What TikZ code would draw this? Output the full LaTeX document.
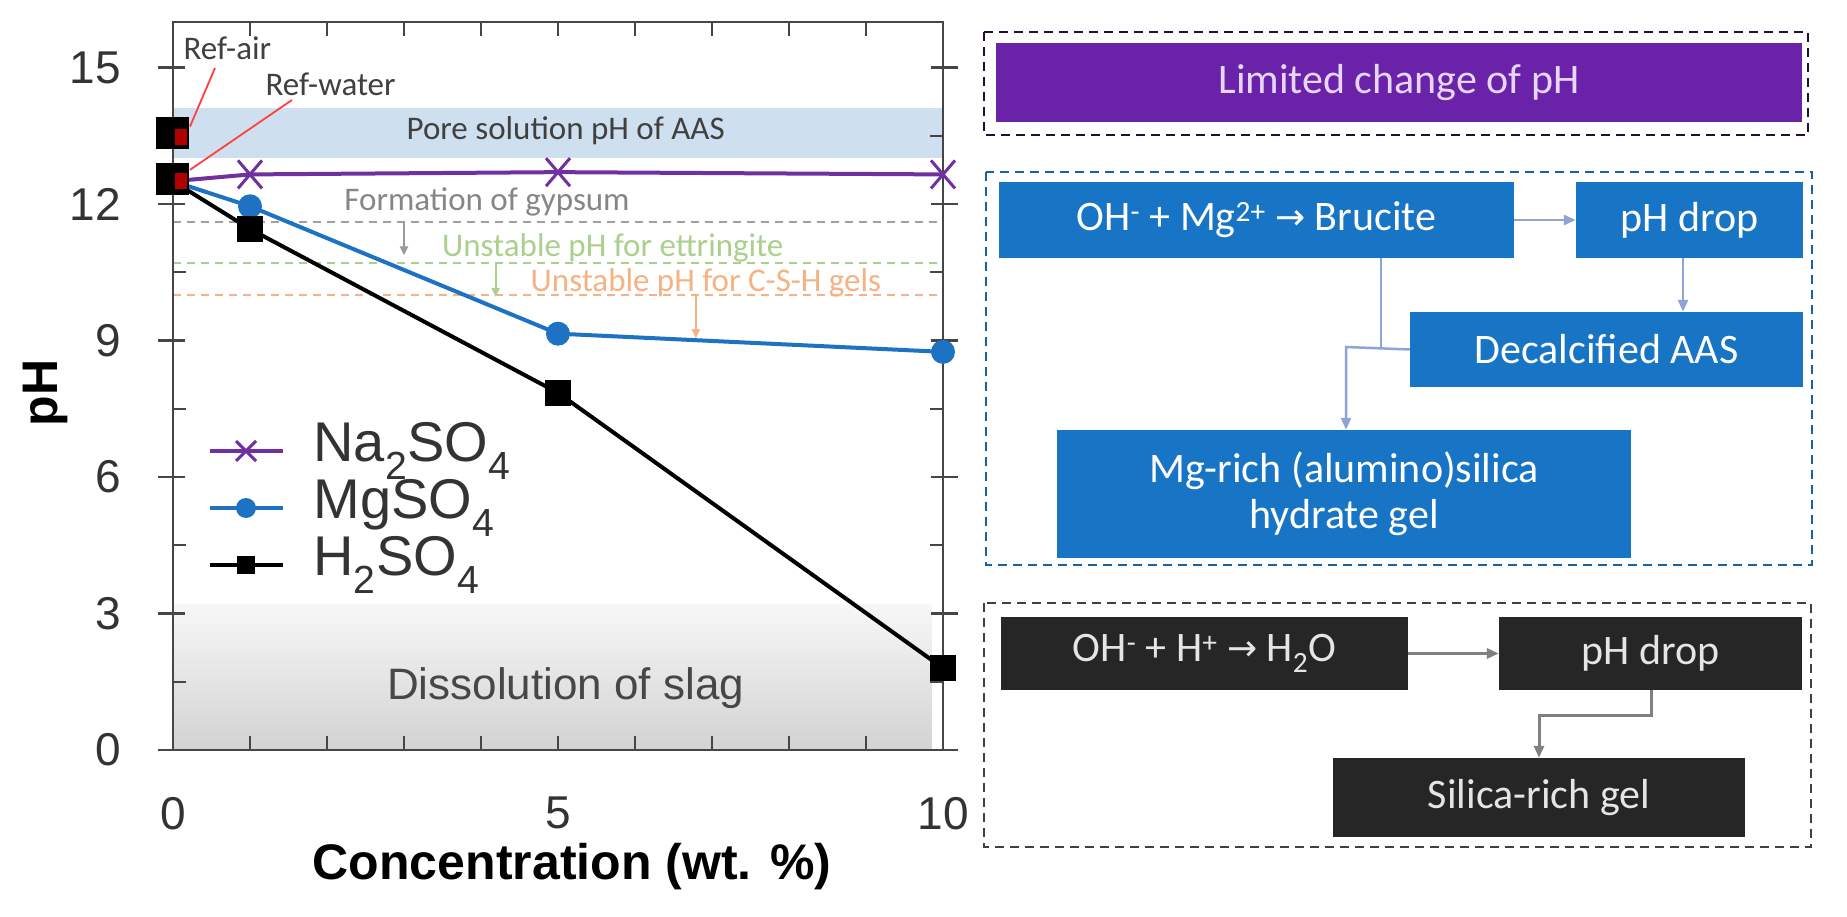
\documentclass[tikz,border=0pt]{standalone}
\usepackage{fontspec}
\setmainfont{Liberation Sans}
\newfontfamily\carl{Carlito}
\newfontfamily\dvs{DejaVu Sans}
\usetikzlibrary{arrows.meta}
\definecolor{bluebox}{RGB}{24,116,196}
\definecolor{bluearr}{RGB}{142,164,214}
\definecolor{purbox}{RGB}{106,34,168}
\definecolor{purtxt}{RGB}{232,214,248}
\definecolor{blkbox}{RGB}{38,38,38}
\definecolor{greyarr}{RGB}{128,128,128}
\definecolor{poreband}{RGB}{206,224,240}
\definecolor{nacol}{RGB}{112,48,160}
\definecolor{mgcol}{RGB}{30,114,196}
\definecolor{ettr}{RGB}{170,208,140}
\definecolor{cshc}{RGB}{246,178,130}
\definecolor{framec}{RGB}{70,70,70}
\newcommand{\myarr}{{\dvs\fontsize{36}{36}\selectfont\raisebox{1pt}{→}}}
\tikzset{
 fbox/.style={inner sep=0pt, font={\carl\fontsize{42}{46}\selectfont}, align=center},
 bbox/.style={fbox, fill=bluebox, text=white},
 kbox/.style={fbox, fill=blkbox, text=white!90!black},
 outerbox/.style={dashed, dash pattern=on 9pt off 6pt, line width=2.5pt},
 barrow/.style={-{Triangle[length=12pt,width=10pt]}, line width=2.5pt, bluearr},
 karrow/.style={-{Triangle[length=12pt,width=10pt]}, line width=3pt, greyarr},
 ticklab/.style={font=\fontsize{46}{46}\selectfont, text=black!80},
 ann/.style={font={\carl\fontsize{33}{33}\selectfont}},
}
\begin{document}
\begin{tikzpicture}[x=1pt,y=-1pt]
\useasboundingbox (0,0) rectangle (1847,917);
\fill[white] (0,0) rectangle (1847,917);
\begin{scope}[shift={(173,750)}, x=77pt, y=45.5pt]
 \fill[poreband] (0,13.0) rectangle (10,14.1);
 \shade[top color=gray!6, bottom color=gray!35] (0,0) rectangle (9.85,3.2);
 \draw[gray!75, line width=2pt, dash pattern=on 8pt off 6pt] (0,11.6) -- (10,11.6);
 \draw[ettr, line width=2pt, dash pattern=on 8pt off 6pt] (0,10.7) -- (10,10.7);
 \draw[cshc, line width=2pt, dash pattern=on 8pt off 6pt] (0,10.0) -- (10,10.0);
 \draw[framec, line width=2.5pt] (0,0) rectangle (10,16.0);
 \foreach \p in {0,3,...,15} {
   \draw[framec, line width=2.5pt] (-0.2,\p) -- (0.15,\p);
   \draw[framec, line width=2.5pt] (10.2,\p) -- (9.85,\p);
   \node[ticklab, anchor=east] at (-0.63,\p) {\p};
 }
 \foreach \p in {1.5,4.5,...,13.5} {
   \draw[framec, line width=2pt] (0,\p) -- (0.17,\p);
   \draw[framec, line width=2pt] (10,\p) -- (9.83,\p);
 }
 \foreach \c in {1,...,9} {
   \draw[framec, line width=2pt] (\c,0) -- (\c,0.3);
   \draw[framec, line width=2pt] (\c,16) -- (\c,15.7);
 }
 \node[ticklab] at (0,-1.39) {0};
 \node[ticklab] at (5,-1.39) {5};
 \node[ticklab] at (10,-1.39) {10};
 \node[ann, text=black!75] (pore) at (5.1,13.6) {Pore solution pH of AAS};
 \node[font=\fontsize{44}{44}\selectfont, text=black!72] (slag) at (5.1,1.36) {Dissolution of slag};
 \node[ann, text=gray!95, anchor=west] (gyp) at (2.18,12.04) {Formation of gypsum};
 \node[ann, text=ettr, anchor=west] (ett) at (3.45,11.03) {Unstable pH for ettringite};
 \node[ann, text=cshc, anchor=west] (csh) at (4.6,10.26) {Unstable pH for C-S-H gels};
 \coordinate (g1) at (3.0,11.6); \coordinate (g2) at (3.0,10.87);
 \coordinate (e1) at (4.19,10.7); \coordinate (e2) at (4.19,9.96);
 \coordinate (c1) at (6.79,10.0); \coordinate (c2) at (6.79,9.05);
 \draw[gray!80, line width=2pt, -{Triangle[length=9pt,width=8pt]}] (g1) -- (g2);
 \draw[ettr, line width=2pt, -{Triangle[length=9pt,width=8pt]}] (e1) -- (e2);
 \draw[cshc, line width=2pt, -{Triangle[length=9pt,width=8pt]}] (c1) -- (c2);
 \draw[nacol, line width=4pt] (0,12.5) -- (1,12.65) -- (5,12.7) -- (10,12.65);
 \draw[mgcol, line width=4pt] (0,12.5) -- (1,11.95) -- (5,9.15) -- (10,8.75);
 \draw[black, line width=4pt] (0,12.5) -- (1,11.45) -- (5,7.85) -- (10,1.8);
 \foreach \c/\p in {1/12.65,5/12.7,10/12.65}
   \draw[nacol, line width=3pt] ([shift={(-12pt,-14pt)}]\c,\p) -- ([shift={(12pt,14pt)}]\c,\p)
     ([shift={(-12pt,14pt)}]\c,\p) -- ([shift={(12pt,-14pt)}]\c,\p);
 \foreach \c/\p in {1/11.95,5/9.15,10/8.75}
   \fill[mgcol] (\c,\p) circle (12pt);
 \foreach \c/\p in {1/11.45,5/7.85,10/1.8}
   \fill[black] ([shift={(-13pt,-13pt)}]\c,\p) rectangle ([shift={(13pt,13pt)}]\c,\p);
 \fill[black] ([shift={(-17pt,-16pt)}]0,13.55) rectangle ([shift={(16pt,16pt)}]0,13.55);
 \fill[black] ([shift={(-17pt,-16pt)}]0,12.55) rectangle ([shift={(16pt,16pt)}]0,12.55);
 \fill[red!70!black] ([shift={(2pt,-12pt)}]0,13.55) rectangle ([shift={(14pt,4pt)}]0,13.55);
 \fill[red!70!black] ([shift={(2pt,-10pt)}]0,12.55) rectangle ([shift={(14pt,6pt)}]0,12.55);
 \coordinate (ra) at (0.22,13.7);
 \coordinate (rw) at (0.22,12.75);
\end{scope}
\node[ann, text=black!75, anchor=west] (refair) at (180,48) {Ref-air};
\node[ann, text=black!75, anchor=west] (refwater) at (262,84) {Ref-water};
\draw[red!75, line width=1.8pt] (215,68) -- (ra);
\draw[red!75, line width=1.8pt] (292,100) -- (rw);
\coordinate (lmg) at (246,508);
\draw[nacol, line width=3.5pt] (210,451) -- (283,451);
\draw[nacol, line width=3pt] (236,441) -- (256,461) (236,461) -- (256,441);
\draw[mgcol, line width=3.5pt] (210,508) -- (283,508);
\fill[mgcol] (lmg) circle (10pt);
\draw[black, line width=3.5pt] (210,565) -- (283,565);
\fill[black] (237,556) rectangle (255,574);
\node[anchor=west, font=\fontsize{56}{56}\selectfont, text=black!80] (tna) at (310,451) {Na\textsubscript{2}SO\textsubscript{4}};
\node[anchor=west, font=\fontsize{56}{56}\selectfont, text=black!80] (tmg) at (310,508) {MgSO\textsubscript{4}};
\node[anchor=west, font=\fontsize{56}{56}\selectfont, text=black!80] (th) at (310,565) {H\textsubscript{2}SO\textsubscript{4}};
\node[font=\bfseries\fontsize{50}{50}\selectfont, rotate=90] (ylab) at (45,393) {pH};
\node[font=\bfseries\fontsize{50}{50}\selectfont] (xlab) at (572,867) {Concentration (wt. \%)};
% ---- flowchart ----
\draw[outerbox, black!65!purbox] (984,32) rectangle (1808,135);
\node[fbox, fill=purbox, text=purtxt, minimum width=806pt, minimum height=79pt] (lim) at (1399,82.5) {Limited change of pH};
\draw[outerbox, bluebox!85!black] (986,172) rectangle (1812,565);
\node[bbox, minimum width=515pt, minimum height=76pt] (bru) at (1256.5,220) {OH\textsuperscript{-} + Mg\textsuperscript{2+} \myarr{} Brucite};
\node[bbox, minimum width=227pt, minimum height=76pt] (phd1) at (1689.5,220) {pH drop};
\node[bbox, minimum width=393pt, minimum height=75pt] (dec) at (1606.5,349.5) {Decalcified AAS};
\node[bbox, minimum width=574pt, minimum height=128pt] (mgr) at (1344,494) {Mg-rich (alumino)silica\\hydrate gel};
\coordinate (pa) at (1683,0);
\draw[barrow] (bru.east) -- (phd1.west);
\draw[barrow] (pa |- phd1.south) -- (pa |- dec.north);
\coordinate (jn) at (1381,347);
\coordinate (el) at (1346,347);
\draw[bluearr, line width=2.5pt] (jn |- bru.south) -- (jn);
\draw[barrow] (dec.west) -- (el) -- (el |- mgr.north);
\draw[outerbox, black!75] (984,603) rectangle (1811,847);
\node[kbox, minimum width=407pt, minimum height=73pt] (h2o) at (1204.5,653.5) {OH\textsuperscript{-} + H\textsuperscript{+} \myarr{} H\textsubscript{2}O};
\node[kbox, minimum width=303pt, minimum height=73pt] (phd2) at (1650.5,653.5) {pH drop};
\node[kbox, minimum width=412pt, minimum height=79pt] (sil) at (1539,797.5) {Silica-rich gel};
\draw[karrow] (h2o.east) -- (phd2.west);
\coordinate (k1) at (1651,715);
\coordinate (k2) at (1539,715);
\draw[karrow] (k1 |- phd2.south) -- (k1) -- (k2) -- (sil.north);
\end{tikzpicture}
\end{document}
